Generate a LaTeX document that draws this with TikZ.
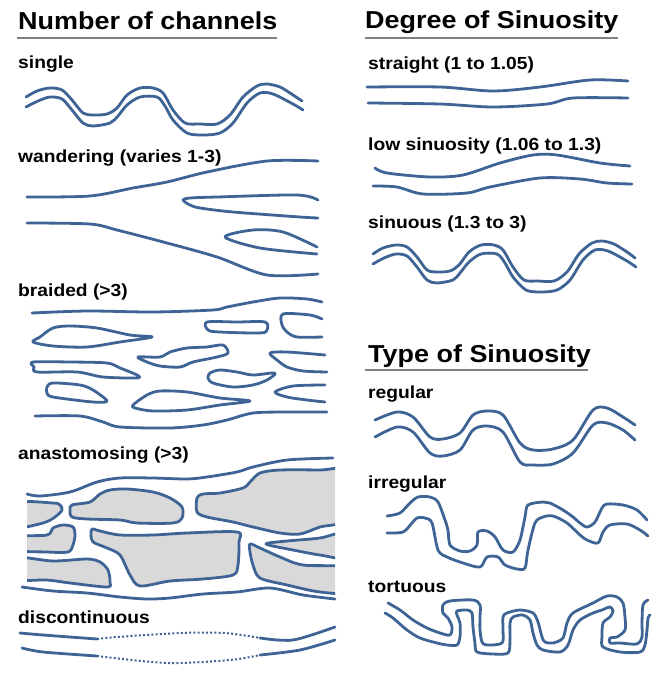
\documentclass[tikz,border=0pt]{standalone}
\usepackage{fontspec}
\setmainfont{Liberation Sans}[FakeStretch=1.1]
\definecolor{riverblue}{HTML}{3E6495}
\definecolor{bargray}{HTML}{D9D9D9}
\definecolor{rulegray}{HTML}{808080}
\tikzset{
  river/.style={riverblue,line width=2.8pt,line cap=round,line join=round},
  island/.style={river,fill=bargray},
  dry/.style={riverblue,line width=2pt,dash pattern=on 2pt off 2.2pt},
  heading/.style={anchor=base west,inner sep=0pt,font=\fontsize{24.5}{28}\selectfont\bfseries},
  tag/.style={anchor=base west,inner sep=0pt,font=\fontsize{17.5}{20}\selectfont\bfseries},
  rule/.style={rulegray,line width=1.5pt}
}
\begin{document}
\begin{tikzpicture}[x=1pt,y=-1pt]
      \useasboundingbox (0,0) rectangle (666,675);

      \node [heading] (nchan) at (18,29) {Number of channels};
      \draw [rule] (17,38) -- (277,38);
      \node [tag] (single) at (18,68) {single};
      \node [tag] (wander) at (18,162) {wandering (varies 1-3)};
      \node [tag] (braid) at (18,296) {braided (>3)};
      \node [tag] (anast) at (18,459) {anastomosing (>3)};
      \node [tag] (discont) at (18,623) {discontinuous};

      \node [heading] (degree) at (365,28) {Degree of Sinuosity};
      \draw [rule] (365,38) -- (618,38);
      \node [tag] (straight) at (368,69) {straight (1 to 1.05)};
      \node [tag] (lowsin) at (368,150) {low sinuosity (1.06 to 1.3)};
      \node [tag] (sinuous) at (368,228) {sinuous (1.3 to 3)};

      \node [heading] (kind) at (368,362) {Type of Sinuosity};
      \draw [rule] (365,370) -- (588,370);
      \node [tag] (regular) at (368,398) {regular};
      \node [tag] (irregular) at (368,488) {irregular};
      \node [tag] (tortuous) at (368,592) {tortuous};

      % single
      \draw [river] plot [smooth] coordinates {(26,97) (37,91) (50,88) (62,90) (72,100) (83,113) (93,115) (107,114) (117,108) (127,95) (140,88) (153,88) (163,93) (173,110) (185,123) (200,124) (217,124) (230,115) (243,97) (257,86) (267,84) (280,87) (293,95) (302,101)};
      \draw [river] plot [smooth] coordinates {(26,107) (38,101) (50,97) (62,99) (72,110) (83,123) (93,126) (110,123) (118,116) (127,105) (140,97) (157,97) (165,106) (173,120) (187,133) (203,135) (220,133) (233,123) (247,103) (260,93) (273,94) (293,104) (303,110)};

      % wandering
      \draw [river] plot [smooth] coordinates {(27,197) (90,196) (133,188) (167,182) (207,172) (267,161) (318,161)};
      \draw [river] plot [smooth] coordinates {(318,200) (297,195) (217,197) (190,198) (183,200) (190,205) (200,208) (233,212) (300,217) (318,218)};
      \draw [river] plot [smooth] coordinates {(317,247) (283,232) (253,230) (225,237) (260,248) (317,254)};
      \draw [river] plot [smooth] coordinates {(27,223) (90,224) (117,230) (167,243) (217,257) (267,275) (318,274)};

      % braided
      \draw [river] plot [smooth] coordinates {(32,313) (87,311) (153,312) (213,310) (227,307) (253,302) (280,298) (307,299) (322,302)};
      \draw [river] plot [smooth cycle] coordinates {(33,342) (40,337) (53,328) (70,326) (97,328) (130,335) (152,337) (120,342) (87,347) (53,346)};
      \draw [river] plot [smooth cycle] coordinates {(207,322) (237,322) (265,322) (267,330) (260,333) (220,332) (208,330)};
      \draw [river] plot [smooth] coordinates {(322,319) (310,315) (283,314) (282,325) (287,332) (297,337) (322,337)};
      \draw [river] plot [smooth cycle] coordinates {(138,357) (160,357) (170,352) (187,348) (207,347) (223,345) (228,353) (217,357) (193,362) (180,367) (160,366) (147,362)};
      \draw [river] plot [smooth] coordinates {(325,355) (287,352) (270,353) (277,360) (287,367) (303,371) (327,372)};
      \draw [river] plot [smooth cycle] coordinates {(33,362) (70,362) (107,363) (120,368) (137,375) (137,378) (103,377) (77,372) (37,372) (34,367)};
      \draw [river] plot [smooth cycle] coordinates {(210,373) (220,370) (237,372) (253,375) (275,373) (267,380) (253,385) (233,387) (213,383) (208,378)};
      \draw [river] plot [smooth cycle] coordinates {(47,387) (53,383) (80,385) (93,390) (107,401) (93,402) (53,397) (47,393)};
      \draw [river] plot [smooth cycle] coordinates {(133,405) (147,395) (160,391) (187,392) (220,398) (250,401) (220,405) (187,410) (153,411) (135,408)};
      \draw [river] plot [smooth] coordinates {(325,385) (293,386) (275,392) (287,397) (307,400) (325,402)};
      \draw [river] plot [smooth] coordinates {(35,416) (80,416) (103,422) (120,427) (170,428) (203,425) (227,420) (253,413) (287,412) (327,412)};

      % anastomosing
      \begin{scope}
        \clip (27,440) rectangle (335,610);
        \draw [island] plot [smooth cycle] coordinates {(15,503) (53,503) (60,505) (62,510) (55,517) (43,523) (15,527)};
        \draw [island] plot [smooth cycle] coordinates {(70,510) (72,505) (90,502) (100,494) (110,490) (127,489) (153,492) (170,498) (182,507) (182,518) (173,523) (137,523) (120,520) (87,519) (72,517)};
        \draw [island] plot [smooth cycle] coordinates {(197,498) (203,494) (220,493) (243,488) (250,482) (260,473) (280,470) (320,470) (350,471) (350,518) (320,527) (300,534) (280,533) (253,527) (233,522) (207,517) (197,512)};
        \draw [island] plot [smooth cycle] coordinates {(15,537) (47,535) (53,528) (63,525) (73,527) (75,535) (73,545) (68,552) (47,552) (15,550)};
        \draw [island] plot [smooth cycle] coordinates {(92,529) (100,531) (120,535) (153,535) (187,533) (237,532) (239,542) (238,565) (233,575) (203,579) (170,581) (140,586) (130,575) (120,555) (107,548) (93,542) (91,535)};
        \draw [island] plot [smooth cycle] coordinates {(15,558) (53,561) (87,559) (100,562) (108,570) (110,582) (107,587) (70,583) (47,580) (15,579)};
        \draw [island] plot [smooth cycle] coordinates {(266,544) (287,541) (320,538) (350,532) (350,558) (320,555) (293,550)};
        \draw [island] plot [smooth cycle] coordinates {(250,544) (260,548) (280,557) (303,565) (350,568) (350,592) (320,592) (287,585) (260,578) (253,565) (250,552)};
      \end{scope}
      \draw [river] plot [smooth] coordinates {(27,494) (40,496) (70,492) (97,482) (120,478) (153,478) (187,479) (207,477) (237,472) (253,467) (287,460) (333,458)};
      \draw [river] plot [smooth] coordinates {(22,587) (53,591) (87,593) (120,597) (147,599) (170,598) (203,594) (237,592) (270,588) (303,595) (335,599)};

      % discontinuous
      \draw [river] plot [smooth] coordinates {(20,633) (43,635) (97,639)};
      \draw [dry] plot [smooth] coordinates {(97,639) (117,637) (180,633) (225,633) (260,638)};
      \draw [river] plot [smooth] coordinates {(260,638) (293,640) (335,627)};
      \draw [river] plot [smooth] coordinates {(22,648) (43,652) (97,656)};
      \draw [dry] plot [smooth] coordinates {(97,656) (167,663) (230,660) (260,655)};
      \draw [river] plot [smooth] coordinates {(260,655) (300,650) (335,640)};

      % straight
      \draw [river] plot [smooth] coordinates {(367,87) (440,87) (493,91) (540,87) (590,80) (628,81)};
      \draw [river] plot [smooth] coordinates {(368,103) (440,104) (493,107) (547,104) (573,98) (628,98)};

      % low sinuosity
      \draw [river] plot [smooth] coordinates {(375,168) (387,173) (430,177) (463,175) (500,163) (533,155) (557,155) (600,163) (630,166)};
      \draw [river] plot [smooth] coordinates {(373,186) (397,187) (423,194) (467,193) (490,187) (540,178) (580,179) (607,183) (632,184)};

      % sinuous
      \draw [river] plot [smooth] coordinates {(373,254) (383,248) (396,245) (407,247) (417,257) (427,270) (437,272) (450,271) (459,265) (469,252) (481,245) (494,245) (503,250) (513,267) (524,280) (538,281) (554,281) (567,272) (579,254) (592,243) (602,241) (614,244) (627,252) (635,258)};
      \draw [river] plot [smooth] coordinates {(373,264) (384,258) (396,254) (407,256) (417,267) (427,280) (437,283) (453,280) (460,273) (469,262) (481,254) (497,254) (505,263) (513,277) (526,290) (541,292) (557,290) (570,280) (583,260) (595,250) (608,251) (627,261) (636,267)};

      % regular
      \draw [river] plot [smooth] coordinates {(375,420) (397,412) (413,417) (430,437) (443,439) (460,433) (473,415) (487,411) (503,415) (520,443) (533,450) (553,449) (573,440) (593,410) (607,408) (623,417) (635,425)};
      \draw [river] plot [smooth] coordinates {(375,437) (397,427) (413,432) (430,453) (443,456) (460,450) (473,430) (487,426) (503,432) (520,462) (533,465) (553,464) (573,453) (593,425) (607,423) (623,430) (635,440)};

      % irregular
      \draw [river] plot [smooth] coordinates {(387,516) (400,513) (410,503) (418,497) (430,497) (438,502) (445,520) (448,530) (450,545) (460,551) (470,551) (477,545) (478,532) (487,531) (495,537) (503,550) (513,552) (520,540) (525,517) (528,505) (543,502) (550,503) (563,510) (573,517) (580,523) (587,527) (595,522) (602,508) (607,504) (623,505) (637,510) (647,520)};
      \draw [river] plot [smooth] coordinates {(387,533) (403,532) (412,523) (417,518) (425,518) (432,523) (438,550) (447,557) (463,563) (480,567) (487,557) (498,557) (505,565) (517,569) (525,568) (528,550) (535,523) (543,517) (553,516) (567,523) (580,535) (587,540) (598,543) (603,532) (610,525) (627,524) (640,530) (648,536)};

      % tortuous
      \draw [river] plot [smooth] coordinates {(388,603) (400,610) (413,620) (427,628) (440,633) (450,635) (452,627) (448,618) (443,613) (443,605) (450,601) (473,600) (480,605) (480,617) (480,630) (482,642) (487,645) (502,643) (503,630) (503,617) (507,613) (520,610) (533,613) (538,622) (542,637) (545,642) (553,643) (563,638) (567,623) (573,613) (593,603) (607,596) (617,597) (623,603) (625,617) (625,630) (617,637) (610,638) (610,643) (620,643) (637,644) (642,637) (642,623) (643,605) (648,600)};
      \draw [river] plot [smooth] coordinates {(385,613) (393,618) (407,630) (420,638) (437,643) (447,645) (457,645) (460,637) (460,623) (457,615) (457,611) (467,610) (472,613) (473,627) (475,643) (477,652) (493,654) (508,653) (510,640) (510,623) (513,617) (523,615) (530,620) (533,633) (537,645) (543,650) (560,652) (568,645) (573,630) (580,620) (593,613) (602,610) (610,607) (613,611) (610,617) (603,623) (602,637) (603,647) (620,652) (640,652) (645,645) (647,630) (648,618) (650,615)};
    \end{tikzpicture}
\end{document}
